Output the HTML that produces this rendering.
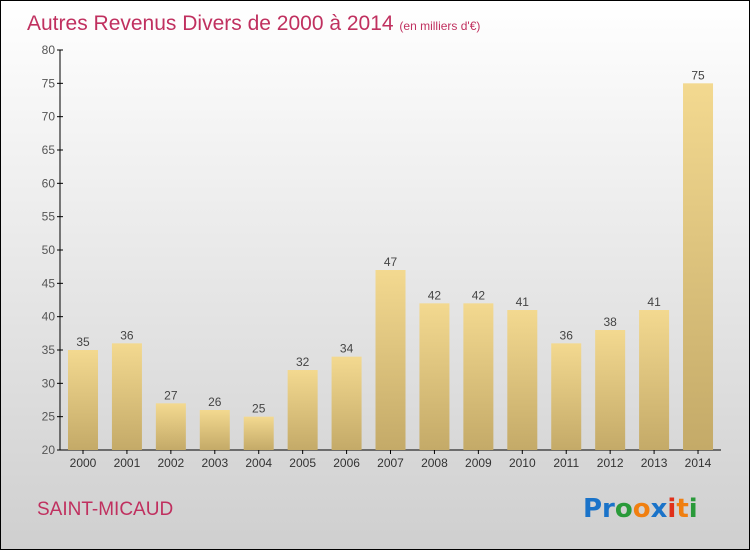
<!DOCTYPE html>
<html><head><meta charset="utf-8"><style>
html,body{margin:0;padding:0}
body{width:750px;height:550px;overflow:hidden;font-family:"Liberation Sans",sans-serif}
#wrap{position:relative;width:748px;height:548px;border:1px solid #000;background:linear-gradient(#ffffff,#cfcfcf)}
</style></head><body>
<div id="wrap">
<svg id="chart" width="748" height="548">
<defs><linearGradient id="bg" x1="0" y1="0" x2="0" y2="1"><stop offset="0" stop-color="#f3d990"/><stop offset="1" stop-color="#c4aa68"/></linearGradient></defs>
<text x="26" y="29" font-size="21" fill="#c0305f">Autres Revenus Divers de 2000 à 2014 <tspan font-size="12">(en milliers d'€)</tspan></text>
<text x="36" y="514" font-size="19" fill="#c0305f">SAINT-MICAUD</text>
<g font-size="26" font-weight="bold" font-family="'DejaVu Sans',sans-serif">
<text x="582" y="516"><tspan fill="#1a73c9">Pr</tspan><tspan fill="#2a9a3a">o</tspan><tspan fill="#f07f10">o</tspan><tspan fill="#1a73c9">x</tspan><tspan fill="#e0301a">i</tspan><tspan fill="#f07f10">t</tspan><tspan fill="#2a9a3a">i</tspan></text>
</g>
<g id="plot"></g>
</svg>
</div>
<script>
const years=["2000","2001","2002","2003","2004","2005","2006","2007","2008","2009","2010","2011","2012","2013","2014"];
const values=[35,36,27,26,25,32,34,47,42,42,41,36,38,41,75];
const yTicks=[20,25,30,35,40,45,50,55,60,65,70,75,80];
const ns="http://www.w3.org/2000/svg";
const g=document.getElementById('plot');
const y0=449,y1=49,vmin=20,vmax=80;
const yS=v=>y0-(v-vmin)/(vmax-vmin)*(y0-y1);
const xS=i=>82+i*43.93;
function mk(t,a){const e=document.createElementNS(ns,t);for(const k in a)e.setAttribute(k,a[k]);g.appendChild(e);return e;}
let ax=mk('line',{x1:59,y1:y1,x2:59,y2:y0,stroke:'#000'});

let bx=mk('line',{x1:59,y1:y0,x2:720,y2:y0,stroke:'#000'});

yTicks.forEach(v=>{const y=yS(v);
mk('line',{x1:56,y1:y,x2:62,y2:y,stroke:'#000'});
const t=mk('text',{x:54,y:y+4,'font-size':12,fill:'#555','text-anchor':'end'});t.textContent=v;
});
years.forEach((yr,i)=>{const x=xS(i),v=values[i];
const r=mk('rect',{x:x-15,y:yS(v),width:30,height:y0-yS(v),fill:'url(#bg)'});

mk('line',{x1:x,y1:y0,x2:x,y2:y0+4,stroke:'#000'});
const t=mk('text',{x:x,y:466,'font-size':12,fill:'#333','text-anchor':'middle'});t.textContent=yr;

const l=mk('text',{x:x,y:yS(v)-4,'font-size':12,fill:'#444','text-anchor':'middle'});l.textContent=v;
});
</script>
</body></html>
